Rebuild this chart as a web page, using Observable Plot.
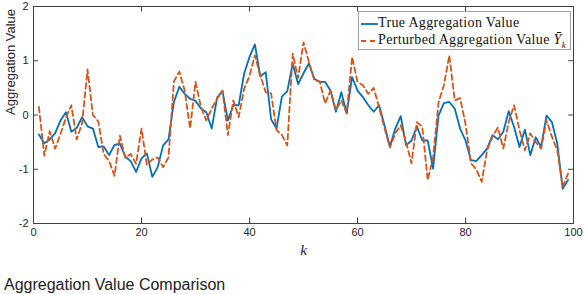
<!DOCTYPE html>
<html><head><meta charset="utf-8">
<script src="https://cdn.jsdelivr.net/npm/d3@7"></script>
<script src="https://cdn.jsdelivr.net/npm/@observablehq/plot@0.6"></script>
<style>
body{margin:0;background:#fff;font-family:"Liberation Sans",Arial,sans-serif;}
#wrap{position:relative;width:586px;}
#legend{position:absolute;left:358px;top:11px;width:213px;height:39px;border:1px solid #a0a0a0;background:#fff;font-family:"Liberation Serif",serif;font-size:14px;letter-spacing:0.35px;color:#111;box-sizing:border-box;}
#legend .row{position:absolute;left:2px;height:17px;line-height:17px;white-space:nowrap;}
#legend svg{vertical-align:middle;}
#caption{font-size:16px;line-height:18px;padding-left:4px;color:#222;margin-top:6px;}
</style></head>
<body>
<div id="wrap"></div>
<div id="caption">Aggregation Value Comparison</div>
<script>
const trueValue = [-0.36,-0.52,-0.45,-0.34,-0.10,0.05,-0.31,-0.24,-0.04,-0.21,
-0.25,-0.59,-0.58,-0.74,-0.55,-0.53,-0.77,-0.85,-1.05,-0.80,
-0.71,-1.14,-0.96,-0.56,-0.45,0.24,0.52,0.39,0.30,0.26,
0.12,0.05,-0.25,0.32,0.44,-0.10,0.18,0.18,0.76,1.07,
1.30,0.71,0.79,-0.08,-0.25,0.34,0.44,0.95,0.57,0.77,
0.95,0.67,0.61,0.61,0.45,0.06,0.42,0.03,0.70,0.45,
0.33,0.18,0.06,0.18,-0.19,-0.58,-0.25,-0.02,-0.56,-0.47,
-0.21,-0.47,-0.47,-0.99,-0.01,0.22,0.24,0.12,-0.25,-0.47,
-0.83,-0.85,-0.74,-0.62,-0.37,-0.45,-0.31,0.07,-0.22,-0.59,
-0.27,-0.74,-0.41,-0.59,-0.01,-0.13,-0.53,-1.36,-1.20];
const perturbedValue = [0.15,-0.75,-0.30,-0.62,-0.35,-0.05,0.18,-0.45,-0.15,0.84,
0.00,-0.12,-0.72,-0.85,-1.12,-0.38,-0.79,-0.72,-0.90,-0.25,
-0.92,-0.82,-0.78,-0.96,-0.78,0.62,0.80,0.45,-0.25,0.61,
0.15,-0.10,0.12,0.30,0.45,-0.37,0.27,-0.04,0.48,0.72,
1.10,0.73,0.42,0.40,-0.28,-0.37,-0.56,1.13,0.68,1.34,
0.98,0.64,0.62,0.21,0.45,0.09,0.27,0.03,1.07,0.61,
0.55,0.39,0.50,0.14,-0.24,-0.60,-0.34,-0.19,-0.50,-0.89,
-0.13,-0.22,-1.20,-0.78,0.23,0.55,1.10,0.27,0.31,-0.16,
-0.89,-1.00,-1.23,-0.65,-0.40,-0.23,-0.62,-0.13,0.18,-0.28,
-0.65,-0.34,-0.50,-0.62,-0.10,-0.40,-0.65,-1.32,-1.08];
const xTicks = [0,20,40,60,80,100];
const yTicks = [-2,-1,0,1,2];
const seriesNames = ["True Aggregation Value","Perturbed Aggregation Value"];
const colors = ["#0072BD","#D95319"];

const rows = trueValue.map((v,i)=>({k:i+1, t:v, p:perturbedValue[i]}));
const axisColor = "#404040";

const chart = Plot.plot({
  width:586, height:270,
  marginLeft:33, marginRight:13, marginTop:6, marginBottom:47,
  style:{fontFamily:"Liberation Sans, Arial, sans-serif", fontSize:"11px", color:"#262626", background:"#fff"},
  x:{domain:[0,100]},
  y:{domain:[-2,2]},
  marks:[
    Plot.ruleX(xTicks,{x:d=>d, y1:-2, y2:-1.9, stroke:axisColor}),
    Plot.ruleX(xTicks,{x:d=>d, y1:2, y2:1.9, stroke:axisColor}),
    Plot.ruleY(yTicks,{y:d=>d, x1:0, x2:0.9, stroke:axisColor}),
    Plot.ruleY(yTicks,{y:d=>d, x1:100, x2:99.1, stroke:axisColor}),
    Plot.axisX({ticks:xTicks, tickSize:0, tickPadding:5, label:null, tickFormat:d=>String(d)}),
    Plot.axisY({ticks:yTicks, tickSize:0, tickPadding:5, label:null, tickFormat:d=>String(d)}),
    Plot.line(rows,{x:"k", y:"t", stroke:colors[0], strokeWidth:1.8}),
    Plot.line(rows,{x:"k", y:"p", stroke:colors[1], strokeWidth:1.8, strokeDasharray:"5.5,3.5"}),
    Plot.frame({stroke:axisColor, strokeWidth:1}),
    Plot.text(["Aggregation Value"],{frameAnchor:"left", rotate:-90, dx:-23, text:d=>d, fontSize:13}),
    Plot.text(["k"],{frameAnchor:"bottom", dy:31, text:d=>d, fontStyle:"italic", fontFamily:"Liberation Serif, serif", fontSize:15})
  ]
});
const wrap = document.getElementById("wrap");
wrap.appendChild(chart);

const legend = document.createElement("div");
legend.id = "legend";
const sample = (c,dash)=>`<svg width="17" height="8"><line x1="0" y1="4" x2="17" y2="4" stroke="${c}" stroke-width="1.8" ${dash?'stroke-dasharray="5,4"':''}/></svg>`;
legend.innerHTML =
  `<div class="row" style="top:2px">${sample(colors[0],false)}${seriesNames[0]}</div>`+
  `<div class="row" style="top:19px">${sample(colors[1],true)}${seriesNames[1]} <i>&#562;<sub style="font-size:9px">k</sub></i></div>`;
wrap.appendChild(legend);
</script>
</body></html>
